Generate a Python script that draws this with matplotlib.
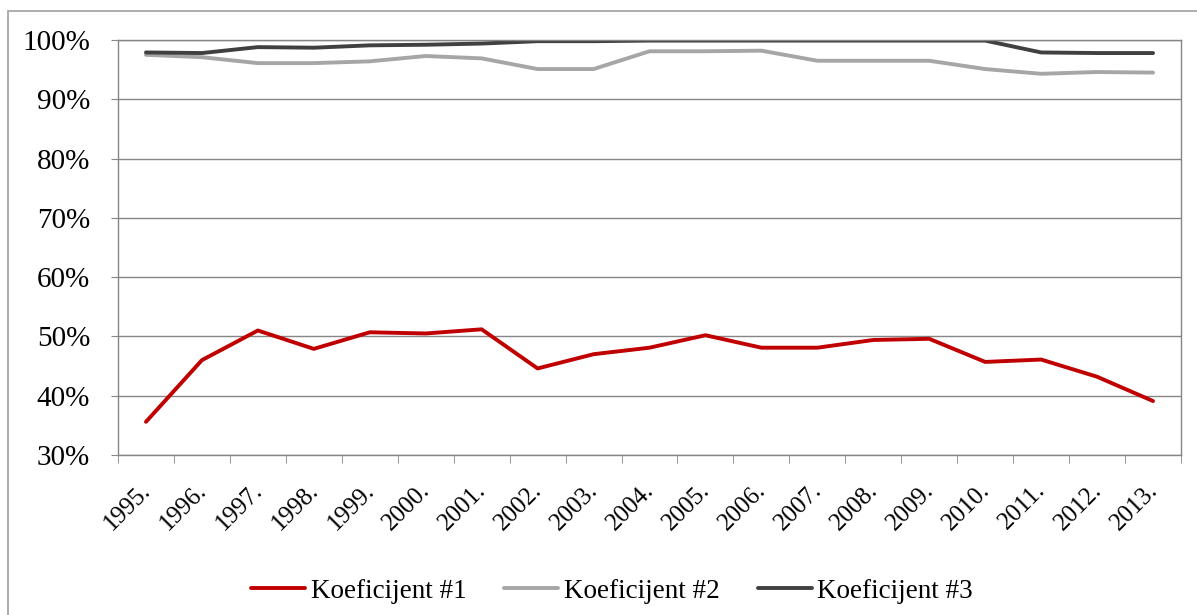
import numpy as np
import matplotlib
matplotlib.use("Agg")
import matplotlib.pyplot as plt
import matplotlib.transforms as mtransforms
from matplotlib.patches import Rectangle

years = ["1995.", "1996.", "1997.", "1998.", "1999.", "2000.", "2001.", "2002.",
         "2003.", "2004.", "2005.", "2006.", "2007.", "2008.", "2009.", "2010.",
         "2011.", "2012.", "2013."]

koef1 = [35.6, 46.0, 51.0, 47.9, 50.7, 50.5, 51.2, 44.6, 47.0, 48.1,
         50.2, 48.1, 48.1, 49.4, 49.6, 45.7, 46.1, 43.2, 39.1]
koef2 = [97.5, 97.1, 96.1, 96.1, 96.4, 97.3, 96.9, 95.1, 95.1, 98.1,
         98.1, 98.2, 96.5, 96.5, 96.5, 95.1, 94.3, 94.6, 94.5]
koef3 = [97.9, 97.8, 98.8, 98.7, 99.1, 99.2, 99.4, 99.8, 99.8, 99.9,
         99.9, 99.9, 99.9, 99.9, 99.9, 99.9, 97.9, 97.8, 97.8]

labels = ["Koeficijent #1", "Koeficijent #2", "Koeficijent #3"]
colors = ["#C00000", "#A6A6A6", "#404040"]

plt.rcParams["font.family"] = ["Liberation Serif", "DejaVu Serif"]
grid_col = "#868686"

W, H = 1197, 615
fig = plt.figure(figsize=(W / 100, H / 100), dpi=100)
ax = fig.add_axes([118 / W, 1 - 455 / H, (1181 - 118) / W, (455 - 40) / H])

x = np.arange(len(years))
for vals, lab, col in zip([koef1, koef2, koef3], labels, colors):
    ax.plot(x, np.array(vals) / 100, color=col, lw=2.8, label=lab,
            solid_capstyle="round", solid_joinstyle="round")

yt = np.arange(0.30, 1.001, 0.10)
ax.set_ylim(0.30, 1.00)
ax.set_yticks(yt)
ax.set_yticklabels([f"{int(round(v * 100))}%" for v in yt])
ax.set_xlim(-0.5, len(years) - 0.5)
ax.set_xticks(x)
ax.set_xticklabels(years, rotation=45, ha="right", va="center",
                   rotation_mode="anchor")
ax.set_xticks(np.arange(-0.5, len(years), 1.0), minor=True)

ax.yaxis.grid(True, color=grid_col, lw=1.0)
ax.set_axisbelow(True)
for s in ax.spines.values():
    s.set_color(grid_col)
    s.set_linewidth(1.0)

ax.tick_params(axis="y", length=5, color=grid_col, labelsize=21, pad=15)
ax.tick_params(axis="x", which="major", length=0, labelsize=18, pad=23)
ax.tick_params(axis="x", which="minor", length=6, color=grid_col)

# nudge year labels a little to the right
shift = mtransforms.ScaledTranslation(1 / 100, 0, fig.dpi_scale_trans)
for t in ax.get_xticklabels():
    t.set_transform(t.get_transform() + shift)

leg = fig.legend(loc="center", bbox_to_anchor=(612 / W, 1 - 591 / H), ncol=3,
                 frameon=False, fontsize=19.5, handlelength=2.0,
                 handletextpad=0.2, columnspacing=1.4)

# outer chart border
fig.patches.append(Rectangle((8 / W, -0.1), 1.2, 1 - 11 / H + 0.1,
                             transform=fig.transFigure, fill=False,
                             edgecolor="#A0A0A0", lw=1.2))

fig.savefig("out.png", dpi=100)
